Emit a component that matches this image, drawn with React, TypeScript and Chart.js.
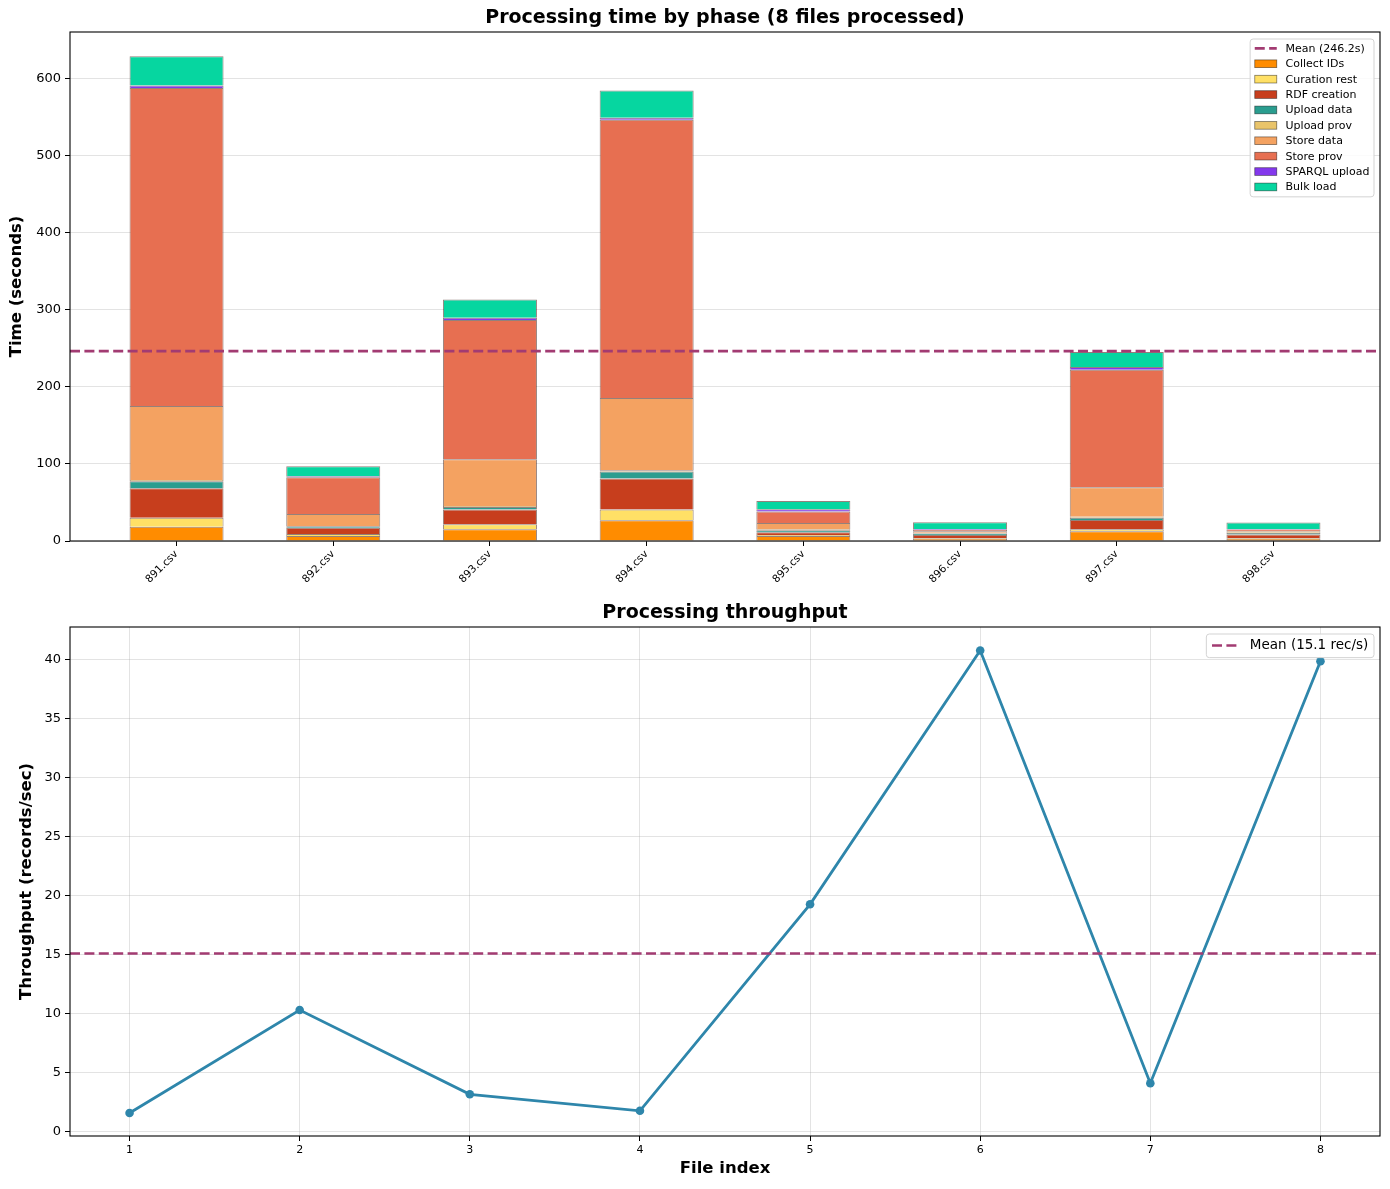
import React, { useEffect, useRef } from "react";
import { Chart, registerables } from "chart.js";

Chart.register(...registerables);

const FONT = '"DejaVu Sans", "Liberation Sans", sans-serif';

// ---------- Data: processing time by phase ----------
const files = ["891.csv", "892.csv", "893.csv", "894.csv", "895.csv", "896.csv", "897.csv", "898.csv"];
const phases = [
  "Collect IDs",
  "Curation rest",
  "RDF creation",
  "Upload data",
  "Upload prov",
  "Store data",
  "Store prov",
  "SPARQL upload",
  "Bulk load",
];
const collectIds = [18.6, 6.5, 15.2, 26.8, 6.5, 3.0, 12.6, 3.0];
const curationRest = [11.7, 2.6, 6.4, 13.9, 1.3, 0.8, 2.6, 0.8];
const rdfCreation = [38.1, 8.2, 19.1, 40.3, 3.5, 4.0, 12.1, 4.5];
const uploadData = [9.1, 1.7, 3.5, 9.0, 2.6, 2.0, 3.0, 2.2];
const uploadProv = [1.7, 0.5, 1.3, 1.8, 1.3, 0.8, 1.3, 0.8];
const storeData = [95.7, 15.6, 60.6, 93.5, 8.2, 2.0, 38.1, 1.5];
const storeProv = [412.5, 47.6, 180.5, 361.0, 14.7, 1.8, 152.4, 2.0];
const sparqlUpload = [3.1, 1.3, 3.0, 2.6, 3.0, 0.8, 3.4, 0.8];
const bulkLoad = [38.1, 13.0, 23.4, 35.1, 10.8, 9.0, 19.5, 8.5];
const meanTime = 246.2;
const timeTicks = [0, 100, 200, 300, 400, 500, 600];

// ---------- Data: throughput ----------
const fileIndex = [1, 2, 3, 4, 5, 6, 7, 8];
const throughput = [1.56, 10.3, 3.15, 1.75, 19.27, 40.8, 4.08, 39.9];
const meanThroughput = 15.1;
const throughputTicks = [0, 5, 10, 15, 20, 25, 30, 35, 40];

const phaseValues = [
  collectIds,
  curationRest,
  rdfCreation,
  uploadData,
  uploadProv,
  storeData,
  storeProv,
  sparqlUpload,
  bulkLoad,
];
const phaseColors = [
  "#FF8C00",
  "#FFE066",
  "#C73E1D",
  "#2A9D8F",
  "#E9C46A",
  "#F4A261",
  "#E76F51",
  "#8338EC",
  "#06D6A0",
];
const MEAN_COLOR = "#A23B72";
const LINE_COLOR = "#2E86AB";
const GRID_COLOR = "rgba(176,176,176,0.35)";

// axis limits (matplotlib-style margins)
const X1_MIN = -0.68;
const X1_MAX = 7.68;
const Y1_MAX = 660;
const X2_MIN = 0.65;
const X2_MAX = 8.35;
const Y2_MIN = -0.39;
const Y2_MAX = 42.8;

type OverlayCfg = { title: string; titleY: number; legendFont: number };

function makeOverlay(cfg: OverlayCfg) {
  return {
    id: "overlay",
    afterDraw(chart: any) {
      const { ctx, chartArea: a } = chart;
      ctx.save();
      // frame (all four spines)
      ctx.setLineDash([]);
      ctx.strokeStyle = "#000";
      ctx.lineWidth = 1.1;
      ctx.strokeRect(a.left, a.top, a.right - a.left, a.bottom - a.top);
      // title
      ctx.fillStyle = "#000";
      ctx.font = `bold 19px ${FONT}`;
      ctx.textAlign = "center";
      ctx.textBaseline = "middle";
      ctx.fillText(cfg.title, (a.left + a.right) / 2, cfg.titleY);
      // legend
      const f = cfg.legendFont;
      ctx.font = `${f}px ${FONT}`;
      const items = chart.data.datasets.filter((d: any) => d.label);
      const textW = Math.max(...items.map((d: any) => ctx.measureText(d.label).width));
      const padX = 0.42 * f;
      const handle = 2 * f;
      const gap = 0.8 * f;
      const row = 1.4 * f;
      const padTop = 0.85 * f;
      const padBottom = 0.9 * f;
      const w = padX * 2 + handle + gap + textW;
      const h = padTop + padBottom + row * (items.length - 1);
      const x0 = a.right - 6 - w;
      const y0 = a.top + 7;
      ctx.beginPath();
      if (ctx.roundRect) ctx.roundRect(x0, y0, w, h, 3);
      else ctx.rect(x0, y0, w, h);
      ctx.fillStyle = "rgba(255,255,255,0.85)";
      ctx.fill();
      ctx.strokeStyle = "#d3d3d3";
      ctx.lineWidth = 1;
      ctx.stroke();
      items.forEach((d: any, i: number) => {
        const cy = y0 + padTop + i * row;
        const hx = x0 + padX;
        if (d.type === "line") {
          ctx.strokeStyle = d.borderColor;
          ctx.lineWidth = d.borderWidth;
          ctx.setLineDash(d.borderDash || []);
          ctx.beginPath();
          ctx.moveTo(hx, cy);
          ctx.lineTo(hx + handle, cy);
          ctx.stroke();
          ctx.setLineDash([]);
        } else {
          const ph = 0.7 * f;
          ctx.fillStyle = d.backgroundColor;
          ctx.fillRect(hx, cy - ph / 2, handle, ph);
          ctx.strokeStyle = "rgba(0,0,0,0.5)";
          ctx.lineWidth = 0.8;
          ctx.strokeRect(hx, cy - ph / 2, handle, ph);
        }
        ctx.fillStyle = "#000";
        ctx.textAlign = "left";
        ctx.textBaseline = "middle";
        ctx.fillText(d.label, hx + handle + gap, cy + 0.5);
      });
      ctx.restore();
    },
  };
}

export default function App() {
  const topRef = useRef<HTMLCanvasElement>(null);
  const botRef = useRef<HTMLCanvasElement>(null);

  useEffect(() => {
    Chart.defaults.font.family = FONT;
    Chart.defaults.color = "#000";

    const barDatasets = phases.map((name, k) => ({
      type: "bar" as const,
      label: name,
      data: phaseValues[k].map((v, i) => ({ x: i, y: v })),
      backgroundColor: phaseColors[k],
      borderColor: "rgba(60,25,15,0.55)",
      borderWidth: 1,
      stack: "phases",
      order: 1,
      categoryPercentage: 1,
      barPercentage: 0.6,
    }));

    const c1 = new Chart(topRef.current!, {
      type: "bar",
      data: {
        datasets: [
          {
            type: "line" as const,
            label: `Mean (${meanTime.toFixed(1)}s)`,
            data: [
              { x: X1_MIN, y: meanTime },
              { x: X1_MAX, y: meanTime },
            ],
            borderColor: MEAN_COLOR,
            borderWidth: 2.6,
            borderDash: [10, 4.4],
            pointRadius: 0,
            stack: "mean",
            order: 0,
          } as any,
          ...barDatasets,
        ],
      },
      options: {
        responsive: false,
        animation: false,
        events: [],
        layout: { padding: { top: 32, right: 10, left: 0, bottom: 0 } },
        plugins: { legend: { display: false }, title: { display: false }, tooltip: { enabled: false } },
        scales: {
          x: {
            type: "linear",
            min: X1_MIN,
            max: X1_MAX,
            bounds: "data",
            offset: false,
            stacked: true,
            afterBuildTicks: (s: any) => {
              s.ticks = files.map((_, i) => ({ value: i }));
            },
            afterFit: (s: any) => {
              s.height = 56;
            },
            ticks: {
              autoSkip: false,
              minRotation: 45,
              maxRotation: 45,
              padding: 2,
              color: "#000",
              font: { size: 10.5, family: FONT },
              callback: (v: any) => files[Math.round(v)] ?? "",
            },
            grid: { offset: false, color: "rgba(0,0,0,0)", tickColor: "#000", tickLength: 5, drawOnChartArea: false },
            border: { display: false },
          } as any,
          y: {
            type: "linear",
            min: 0,
            max: Y1_MAX,
            bounds: "data",
            stacked: true,
            afterBuildTicks: (s: any) => {
              s.ticks = timeTicks.map((v) => ({ value: v }));
            },
            afterFit: (s: any) => {
              s.width = 70;
            },
            ticks: { padding: 4, color: "#000", font: { size: 13, family: FONT } },
            grid: { color: GRID_COLOR, tickColor: "#000", tickLength: 5 },
            border: { display: false },
            title: {
              display: true,
              text: "Time (seconds)",
              color: "#000",
              font: { size: 16.5, weight: "bold", family: FONT },
              padding: { top: 7, bottom: 0 },
            },
          } as any,
        },
      },
      plugins: [makeOverlay({ title: "Processing time by phase (8 files processed)", titleY: 18, legendFont: 11 })],
    } as any);

    const c2 = new Chart(botRef.current!, {
      type: "line",
      data: {
        datasets: [
          {
            label: `Mean (${meanThroughput.toFixed(1)} rec/s)`,
            type: "line",
            data: [
              { x: X2_MIN, y: meanThroughput },
              { x: X2_MAX, y: meanThroughput },
            ],
            borderColor: MEAN_COLOR,
            borderWidth: 2.6,
            borderDash: [10, 4.4],
            pointRadius: 0,
            order: 0,
          } as any,
          {
            type: "line",
            data: fileIndex.map((x, i) => ({ x, y: throughput[i] })),
            borderColor: LINE_COLOR,
            backgroundColor: LINE_COLOR,
            borderWidth: 2.8,
            pointRadius: 4.3,
            pointBackgroundColor: LINE_COLOR,
            pointBorderColor: LINE_COLOR,
            pointBorderWidth: 0,
            tension: 0,
            fill: false,
            order: 1,
          } as any,
        ],
      },
      options: {
        responsive: false,
        animation: false,
        events: [],
        layout: { padding: { top: 30, right: 10, left: 0, bottom: 0 } },
        plugins: { legend: { display: false }, title: { display: false }, tooltip: { enabled: false } },
        scales: {
          x: {
            type: "linear",
            min: X2_MIN,
            max: X2_MAX,
            bounds: "data",
            offset: false,
            afterBuildTicks: (s: any) => {
              s.ticks = fileIndex.map((v) => ({ value: v }));
            },
            afterFit: (s: any) => {
              s.height = 53;
            },
            ticks: { padding: 3, color: "#000", maxRotation: 0, font: { size: 11, family: FONT } },
            grid: { color: GRID_COLOR, tickColor: "#000", tickLength: 5 },
            border: { display: false },
            title: {
              display: true,
              text: "File index",
              color: "#000",
              font: { size: 16.5, weight: "bold", family: FONT },
              padding: { top: 0, bottom: 10 },
            },
          } as any,
          y: {
            type: "linear",
            min: Y2_MIN,
            max: Y2_MAX,
            bounds: "data",
            afterBuildTicks: (s: any) => {
              s.ticks = throughputTicks.map((v) => ({ value: v }));
            },
            afterFit: (s: any) => {
              s.width = 70;
            },
            ticks: { padding: 4, color: "#000", font: { size: 13, family: FONT } },
            grid: { color: GRID_COLOR, tickColor: "#000", tickLength: 5 },
            border: { display: false },
            title: {
              display: true,
              text: "Throughput (records/sec)",
              color: "#000",
              font: { size: 16.5, weight: "bold", family: FONT },
              padding: { top: 17, bottom: 0 },
            },
          } as any,
        },
      },
      plugins: [makeOverlay({ title: "Processing throughput", titleY: 16, legendFont: 13.5 })],
    } as any);

    return () => {
      c1.destroy();
      c2.destroy();
    };
  }, []);

  return (
    <div style={{ position: "absolute", left: 0, top: 0, width: 1390, height: 1189, background: "#fff" }}>
      <canvas ref={topRef} width={1390} height={597} style={{ display: "block" }} />
      <canvas ref={botRef} width={1390} height={592} style={{ display: "block" }} />
    </div>
  );
}
